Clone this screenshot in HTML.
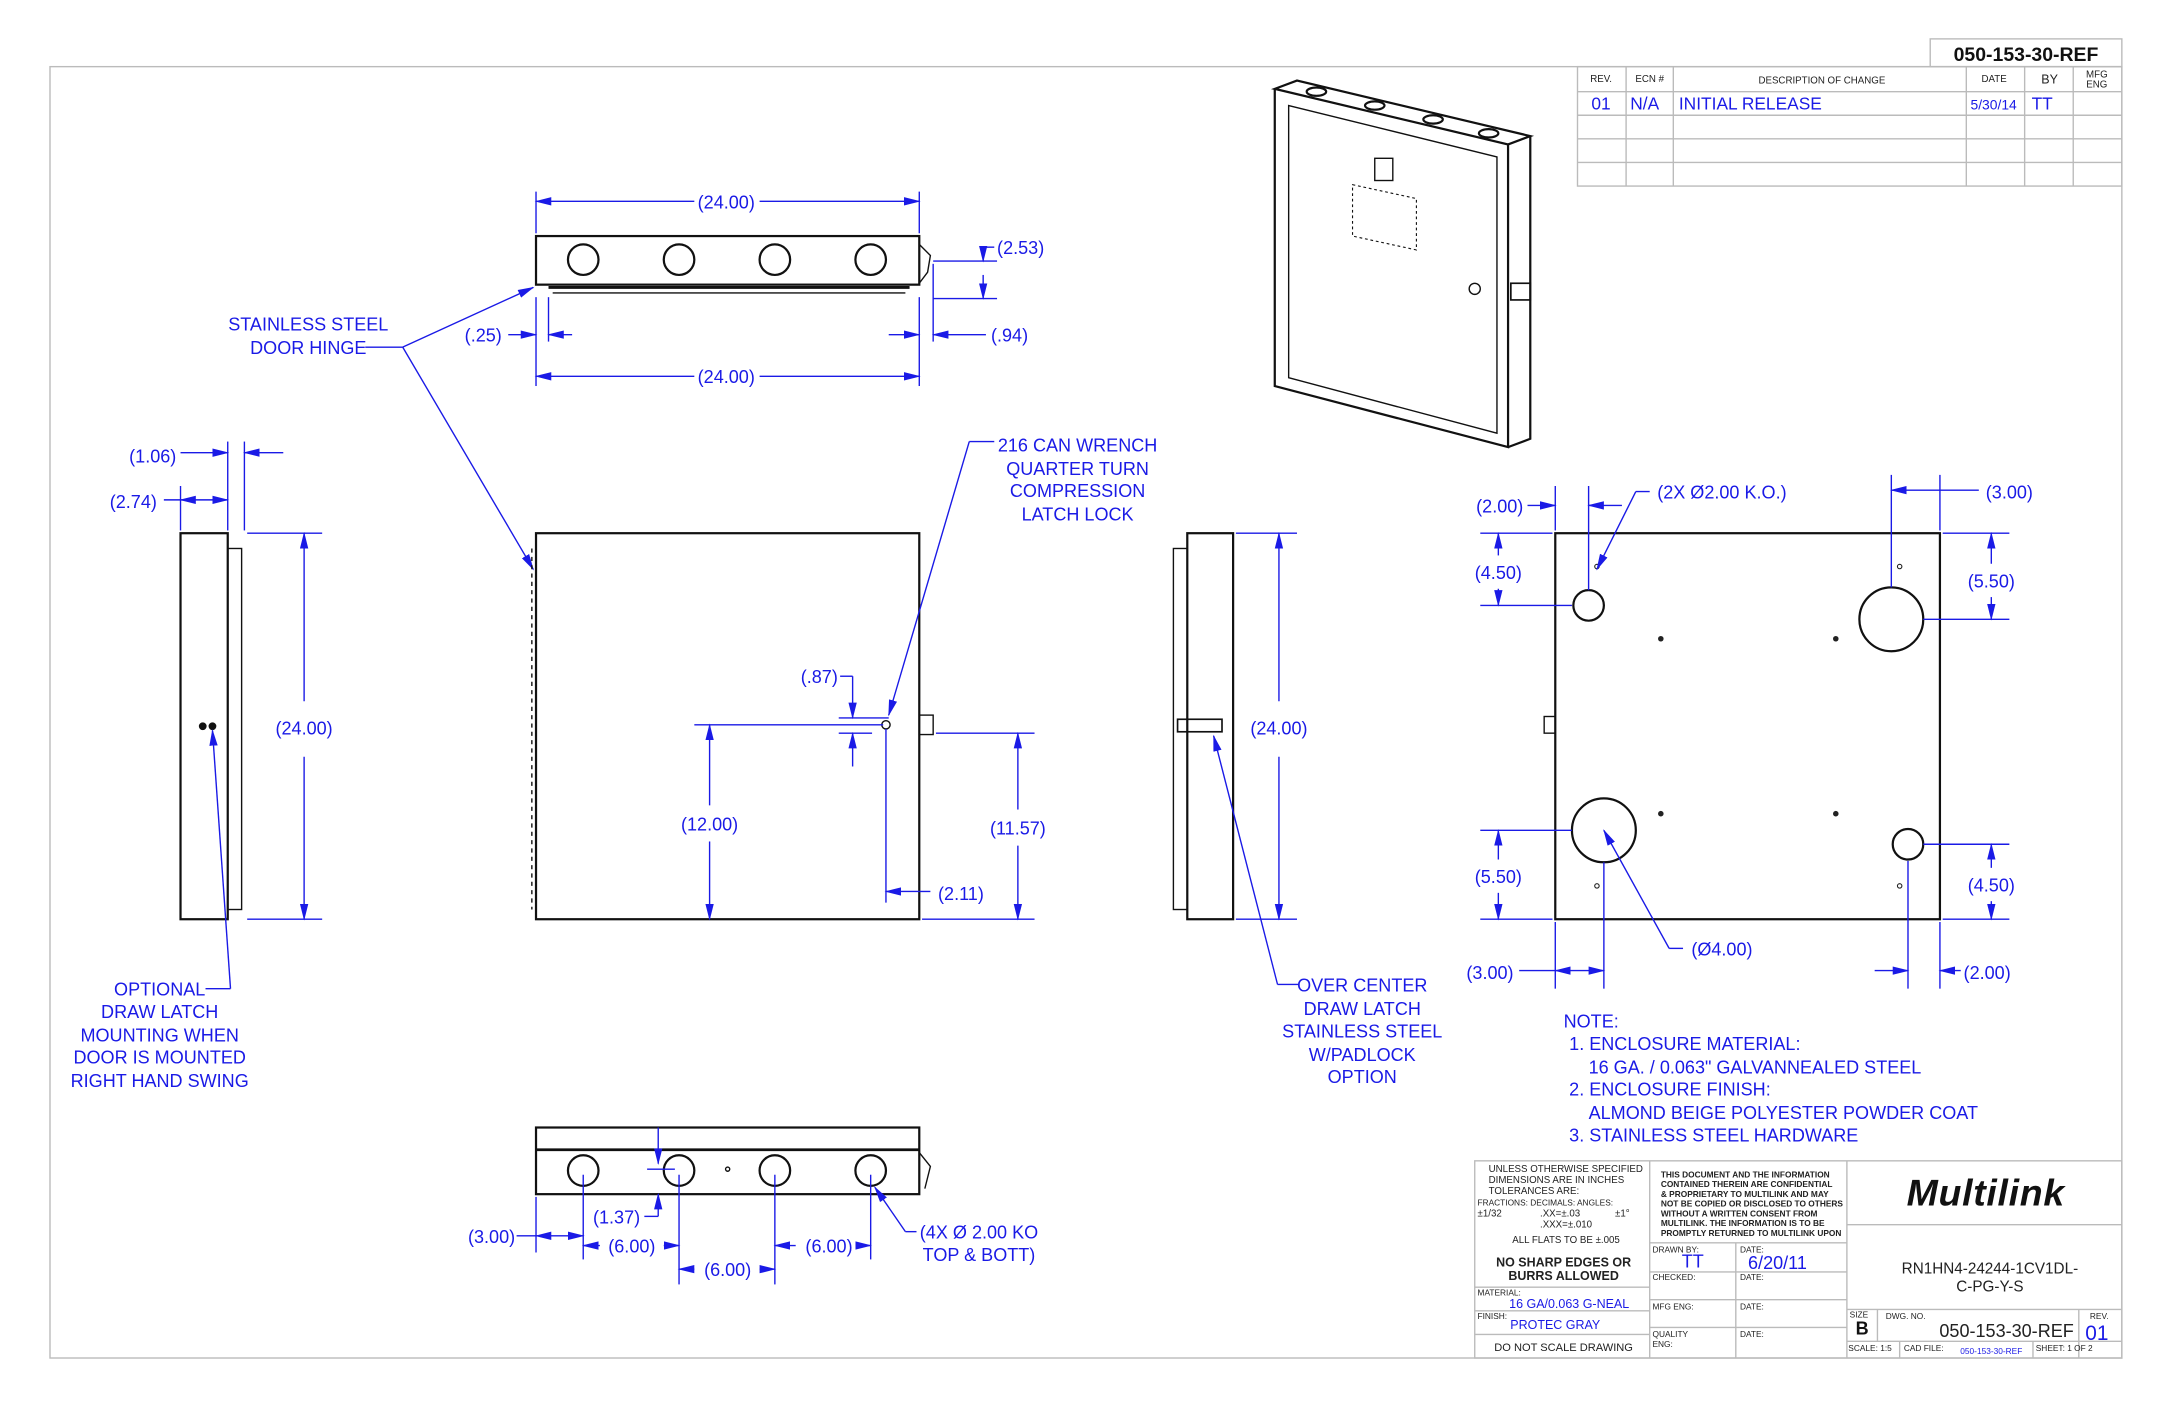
<!DOCTYPE html>
<html><head><meta charset="utf-8"><style>
html,body{margin:0;padding:0;background:#fff}
svg{display:block}
text{font-family:"Liberation Sans",sans-serif}
.b{fill:#1a1ae6;font-size:13px}
.bt{fill:#1a1ae6;font-size:12.5px}
.d{stroke:#1a1ae6;stroke-width:1;fill:none}
.k{stroke:#111;stroke-width:1.6;fill:none}
.g{stroke:#bbb;stroke-width:1;fill:none}
.s{fill:#222;font-size:7px}
</style></head><body>
<svg width="2176" height="1408" viewBox="0 0 1567 1014" preserveAspectRatio="none" xmlns="http://www.w3.org/2000/svg">
<defs>
<marker id="a" markerWidth="12" markerHeight="8" refX="11" refY="4" orient="auto-start-reverse" markerUnits="userSpaceOnUse"><path d="M0,1 L12,4 L0,7 Z" fill="#1a1ae6"/></marker>
</defs>
<rect x="36" y="48" width="1492" height="930" class="g"/>
<rect x="1390" y="28" width="138" height="20" class="g"/>
<text x="1459" y="44" text-anchor="middle" style="font-size:14px;font-weight:bold;fill:#111">050-153-30-REF</text>
<g class="g">
<rect x="1136" y="48" width="392" height="86"/>
<line x1="1136" y1="66" x2="1528" y2="66"/><line x1="1136" y1="83" x2="1528" y2="83"/><line x1="1136" y1="100" x2="1528" y2="100"/><line x1="1136" y1="117" x2="1528" y2="117"/>
<line x1="1171" y1="48" x2="1171" y2="134"/><line x1="1205" y1="48" x2="1205" y2="134"/><line x1="1416" y1="48" x2="1416" y2="134"/><line x1="1458" y1="48" x2="1458" y2="134"/><line x1="1493" y1="48" x2="1493" y2="134"/>
</g>
<g class="s" text-anchor="middle"><text x="1153" y="59">REV.</text><text x="1188" y="59">ECN #</text><text x="1312" y="60">DESCRIPTION OF CHANGE</text><text x="1436" y="59">DATE</text><text x="1476" y="60" style="font-size:9px">BY</text><text x="1510" y="56">MFG</text><text x="1510" y="63">ENG</text></g>
<text x="1146" y="79" class="bt">01</text><text x="1174" y="79" class="bt">N/A</text><text x="1209" y="79" class="bt">INITIAL RELEASE</text><text x="1419" y="79" class="b" style="font-size:10px">5/30/14</text><text x="1463" y="79" class="bt">TT</text>
<g class="k" stroke-width="1.4">
<path d="M918,64 L934,58 L1102,98 L1086,104 Z"/>
<path d="M918,64 L918,278 L1086,322 L1086,104"/>
<path d="M1086,322 L1102,316 L1102,98"/>
<path d="M928,76 L1078,113 L1078,312 L928,272 Z" stroke-width="1"/>
<ellipse cx="948" cy="66" rx="7" ry="3"/><ellipse cx="990" cy="76" rx="7" ry="3"/><ellipse cx="1032" cy="86" rx="7" ry="3"/><ellipse cx="1072" cy="96" rx="7" ry="3"/>
<path d="M974,133 L1020,143 L1020,180 L974,170 Z" stroke-dasharray="2 2" stroke-width="0.8"/>
<rect x="990" y="114" width="13" height="16" stroke-width="1"/>
<rect x="1088" y="204" width="14" height="12" stroke-width="1.2"/>
<circle cx="1062" cy="208" r="4" stroke-width="1"/>
</g>
<g class="k">
<rect x="386" y="170" width="276" height="35"/>
<line x1="395" y1="207" x2="655" y2="207" stroke-width="2"/>
<line x1="398" y1="211" x2="652" y2="211" stroke-width="1"/>
<circle cx="420" cy="187" r="11"/><circle cx="489" cy="187" r="11"/><circle cx="558" cy="187" r="11"/><circle cx="627" cy="187" r="11"/>
<path d="M662,176 L670,184 L668,196 L662,204" stroke-width="1"/>
</g>
<g class="d">
<line x1="386" y1="138" x2="386" y2="168"/><line x1="662" y1="138" x2="662" y2="168"/>
<line x1="386" y1="145" x2="500" y2="145" marker-start="url(#a)"/><line x1="547" y1="145" x2="662" y2="145" marker-end="url(#a)"/>
<line x1="386" y1="214" x2="386" y2="278"/><line x1="395" y1="214" x2="395" y2="246"/><line x1="662" y1="214" x2="662" y2="278"/><line x1="672" y1="190" x2="672" y2="246"/>
<line x1="386" y1="271" x2="500" y2="271" marker-start="url(#a)"/><line x1="547" y1="271" x2="662" y2="271" marker-end="url(#a)"/>
<line x1="366" y1="241" x2="386" y2="241" marker-end="url(#a)"/><line x1="395" y1="241" x2="412" y2="241" marker-start="url(#a)"/>
<line x1="640" y1="241" x2="662" y2="241" marker-end="url(#a)"/><line x1="672" y1="241" x2="710" y2="241" marker-start="url(#a)"/>
<line x1="672" y1="188" x2="718" y2="188"/><line x1="672" y1="215" x2="718" y2="215"/>
<line x1="708" y1="178" x2="708" y2="188" marker-end="url(#a)"/><line x1="708" y1="178" x2="716" y2="178"/><line x1="708" y1="215" x2="708" y2="198" marker-start="url(#a)"/>
</g>
<text x="523" y="150" text-anchor="middle" class="b">(24.00)</text>
<text x="523" y="276" text-anchor="middle" class="b">(24.00)</text>
<text x="735" y="183" text-anchor="middle" class="b">(2.53)</text>
<text x="727" y="246" text-anchor="middle" class="b">(.94)</text>
<text x="348" y="246" text-anchor="middle" class="b">(.25)</text>
<text x="222" y="238" text-anchor="middle" class="b">STAINLESS STEEL</text>
<text x="222" y="255" text-anchor="middle" class="b">DOOR HINGE</text>
<g class="d"><line x1="263" y1="250" x2="290" y2="250"/><line x1="290" y1="250" x2="384" y2="207" marker-end="url(#a)"/><line x1="290" y1="250" x2="384" y2="410" marker-end="url(#a)"/></g>
<g class="k">
<rect x="130" y="384" width="34" height="278"/>
<rect x="164" y="395" width="10" height="260" stroke-width="1"/>
<circle cx="146" cy="523" r="2" fill="#111"/><circle cx="153" cy="523" r="2" fill="#111"/>
</g>
<g class="d">
<line x1="164" y1="318" x2="164" y2="382"/><line x1="176" y1="318" x2="176" y2="382"/><line x1="130" y1="350" x2="130" y2="382"/>
<line x1="130" y1="326" x2="164" y2="326" marker-end="url(#a)"/><line x1="176" y1="326" x2="204" y2="326" marker-start="url(#a)"/>
<line x1="118" y1="360" x2="130" y2="360"/><line x1="130" y1="360" x2="164" y2="360" marker-start="url(#a)" marker-end="url(#a)"/>
<line x1="178" y1="384" x2="232" y2="384"/><line x1="178" y1="662" x2="232" y2="662"/>
<line x1="219" y1="384" x2="219" y2="505" marker-start="url(#a)"/><line x1="219" y1="545" x2="219" y2="662" marker-end="url(#a)"/>
<line x1="148" y1="712" x2="166" y2="712"/><line x1="166" y1="712" x2="153" y2="526" marker-end="url(#a)"/>
</g>
<text x="110" y="333" text-anchor="middle" class="b">(1.06)</text>
<text x="96" y="366" text-anchor="middle" class="b">(2.74)</text>
<text x="219" y="529" text-anchor="middle" class="b">(24.00)</text>
<g class="b" text-anchor="middle"><text x="115" y="717">OPTIONAL</text><text x="115" y="733">DRAW LATCH</text><text x="115" y="750">MOUNTING WHEN</text><text x="115" y="766">DOOR IS MOUNTED</text><text x="115" y="783">RIGHT HAND SWING</text></g>
<g class="k">
<rect x="386" y="384" width="276" height="278"/>
<line x1="383" y1="395" x2="383" y2="655" stroke-width="1" stroke-dasharray="3 3"/>
<circle cx="638" cy="522" r="3" stroke-width="1"/>
<rect x="662" y="515" width="10" height="14" stroke-width="1"/>
</g>
<g class="d">
<line x1="500" y1="522" x2="636" y2="522"/><line x1="638" y1="525" x2="638" y2="650"/>
<line x1="511" y1="522" x2="511" y2="580" marker-start="url(#a)"/><line x1="511" y1="606" x2="511" y2="662" marker-end="url(#a)"/>
<line x1="674" y1="528" x2="745" y2="528"/><line x1="664" y1="662" x2="745" y2="662"/>
<line x1="733" y1="528" x2="733" y2="583" marker-start="url(#a)"/><line x1="733" y1="609" x2="733" y2="662" marker-end="url(#a)"/>
<line x1="638" y1="642" x2="662" y2="642" marker-start="url(#a)"/><line x1="662" y1="642" x2="670" y2="642"/>
<line x1="604" y1="517" x2="640" y2="517"/><line x1="604" y1="528" x2="628" y2="528"/>
<line x1="605" y1="487" x2="614" y2="487"/><line x1="614" y1="487" x2="614" y2="517" marker-end="url(#a)"/><line x1="614" y1="552" x2="614" y2="528" marker-end="url(#a)"/>
<line x1="640" y1="515" x2="698" y2="318" marker-start="url(#a)"/><line x1="698" y1="318" x2="716" y2="318"/>
</g>
<text x="511" y="598" text-anchor="middle" class="b">(12.00)</text>
<text x="733" y="601" text-anchor="middle" class="b">(11.57)</text>
<text x="692" y="648" text-anchor="middle" class="b">(2.11)</text>
<text x="590" y="492" text-anchor="middle" class="b">(.87)</text>
<g class="b" text-anchor="middle"><text x="776" y="325">216 CAN WRENCH</text><text x="776" y="342">QUARTER TURN</text><text x="776" y="358">COMPRESSION</text><text x="776" y="375">LATCH LOCK</text></g>
<g class="k">
<rect x="855" y="384" width="33" height="278"/>
<rect x="845" y="395" width="10" height="260" stroke-width="1"/>
<rect x="848" y="518" width="32" height="9" stroke-width="1.2"/>
</g>
<g class="d">
<line x1="890" y1="384" x2="934" y2="384"/><line x1="890" y1="662" x2="934" y2="662"/>
<line x1="921" y1="384" x2="921" y2="505" marker-start="url(#a)"/><line x1="921" y1="545" x2="921" y2="662" marker-end="url(#a)"/>
<line x1="935" y1="709" x2="920" y2="709"/><line x1="920" y1="709" x2="874" y2="530" marker-end="url(#a)"/>
</g>
<text x="921" y="529" text-anchor="middle" class="b">(24.00)</text>
<g class="b" text-anchor="middle"><text x="981" y="714">OVER CENTER</text><text x="981" y="731">DRAW LATCH</text><text x="981" y="747">STAINLESS STEEL</text><text x="981" y="764">W/PADLOCK</text><text x="981" y="780">OPTION</text></g>
<g class="k">
<rect x="1120" y="384" width="277" height="278"/>
<circle cx="1362" cy="446" r="23"/><circle cx="1144" cy="436" r="11"/><circle cx="1155" cy="598" r="23"/><circle cx="1374" cy="608" r="11"/>
<rect x="1112" y="516" width="8" height="12" stroke-width="1"/>
</g>
<g fill="#222"><circle cx="1196" cy="460" r="2"/><circle cx="1322" cy="460" r="2"/><circle cx="1196" cy="586" r="2"/><circle cx="1322" cy="586" r="2"/></g>
<g fill="none" stroke="#222" stroke-width="0.8"><circle cx="1150" cy="408" r="1.6"/><circle cx="1368" cy="408" r="1.6"/><circle cx="1150" cy="638" r="1.6"/><circle cx="1368" cy="638" r="1.6"/></g>
<g class="d">
<line x1="1120" y1="350" x2="1120" y2="382"/><line x1="1144" y1="350" x2="1144" y2="425"/>
<line x1="1100" y1="364" x2="1120" y2="364" marker-end="url(#a)"/><line x1="1144" y1="364" x2="1168" y2="364" marker-start="url(#a)"/>
<line x1="1362" y1="342" x2="1362" y2="423"/><line x1="1397" y1="342" x2="1397" y2="382"/>
<line x1="1362" y1="353" x2="1397" y2="353" marker-start="url(#a)"/><line x1="1397" y1="353" x2="1425" y2="353"/>
<line x1="1188" y1="354" x2="1178" y2="354"/><line x1="1178" y1="354" x2="1150" y2="410" marker-end="url(#a)"/>
<line x1="1066" y1="384" x2="1118" y2="384"/><line x1="1066" y1="436" x2="1132" y2="436"/>
<line x1="1079" y1="384" x2="1079" y2="400" marker-start="url(#a)"/><line x1="1079" y1="424" x2="1079" y2="436" marker-end="url(#a)"/>
<line x1="1385" y1="446" x2="1447" y2="446"/><line x1="1399" y1="384" x2="1447" y2="384"/>
<line x1="1434" y1="384" x2="1434" y2="406" marker-start="url(#a)"/><line x1="1434" y1="430" x2="1434" y2="446" marker-end="url(#a)"/>
<line x1="1066" y1="598" x2="1132" y2="598"/><line x1="1066" y1="662" x2="1118" y2="662"/>
<line x1="1079" y1="598" x2="1079" y2="619" marker-start="url(#a)"/><line x1="1079" y1="643" x2="1079" y2="662" marker-end="url(#a)"/>
<line x1="1385" y1="608" x2="1447" y2="608"/><line x1="1399" y1="662" x2="1447" y2="662"/>
<line x1="1434" y1="608" x2="1434" y2="625" marker-start="url(#a)"/><line x1="1434" y1="649" x2="1434" y2="662" marker-end="url(#a)"/>
<line x1="1120" y1="664" x2="1120" y2="712"/><line x1="1155" y1="621" x2="1155" y2="712"/>
<line x1="1094" y1="699" x2="1120" y2="699"/><line x1="1120" y1="699" x2="1155" y2="699" marker-start="url(#a)" marker-end="url(#a)"/>
<line x1="1374" y1="620" x2="1374" y2="712"/><line x1="1397" y1="664" x2="1397" y2="712"/>
<line x1="1350" y1="699" x2="1374" y2="699" marker-end="url(#a)"/><line x1="1397" y1="699" x2="1412" y2="699" marker-start="url(#a)"/>
<line x1="1212" y1="683" x2="1202" y2="683"/><line x1="1202" y1="683" x2="1155" y2="598" marker-end="url(#a)"/>
</g>
<text x="1080" y="369" text-anchor="middle" class="b">(2.00)</text>
<text x="1240" y="359" text-anchor="middle" class="b">(2X Ø2.00 K.O.)</text>
<text x="1447" y="359" text-anchor="middle" class="b">(3.00)</text>
<text x="1079" y="417" text-anchor="middle" class="b">(4.50)</text>
<text x="1434" y="423" text-anchor="middle" class="b">(5.50)</text>
<text x="1079" y="636" text-anchor="middle" class="b">(5.50)</text>
<text x="1434" y="642" text-anchor="middle" class="b">(4.50)</text>
<text x="1073" y="705" text-anchor="middle" class="b">(3.00)</text>
<text x="1431" y="705" text-anchor="middle" class="b">(2.00)</text>
<text x="1240" y="688" text-anchor="middle" class="b">(Ø4.00)</text>
<g class="b"><text x="1126" y="740">NOTE:</text><text x="1130" y="756">1. ENCLOSURE MATERIAL:</text><text x="1144" y="773">16 GA. / 0.063" GALVANNEALED STEEL</text><text x="1130" y="789">2. ENCLOSURE FINISH:</text><text x="1144" y="806">ALMOND BEIGE POLYESTER POWDER COAT</text><text x="1130" y="822">3. STAINLESS STEEL HARDWARE</text></g>
<g class="k">
<rect x="386" y="812" width="276" height="48"/>
<line x1="386" y1="828" x2="662" y2="828" stroke-width="2"/>
<circle cx="420" cy="843" r="11"/><circle cx="489" cy="843" r="11"/><circle cx="558" cy="843" r="11"/><circle cx="627" cy="843" r="11"/>
<circle cx="524" cy="842" r="1.5" stroke-width="1"/>
<path d="M662,830 L670,840 L666,856" stroke-width="1"/>
</g>
<g class="d">
<line x1="386" y1="862" x2="386" y2="902"/><line x1="420" y1="846" x2="420" y2="907"/><line x1="489" y1="846" x2="489" y2="925"/><line x1="558" y1="846" x2="558" y2="925"/><line x1="627" y1="846" x2="627" y2="907"/>
<line x1="372" y1="890" x2="386" y2="890"/><line x1="386" y1="890" x2="420" y2="890" marker-start="url(#a)" marker-end="url(#a)"/>
<line x1="420" y1="897" x2="432" y2="897" marker-start="url(#a)"/><line x1="478" y1="897" x2="489" y2="897" marker-end="url(#a)"/>
<line x1="489" y1="914" x2="500" y2="914" marker-start="url(#a)"/><line x1="547" y1="914" x2="558" y2="914" marker-end="url(#a)"/>
<line x1="558" y1="897" x2="573" y2="897" marker-start="url(#a)"/><line x1="620" y1="897" x2="627" y2="897" marker-end="url(#a)"/>
<line x1="474" y1="812" x2="474" y2="838" marker-end="url(#a)"/><line x1="466" y1="842" x2="486" y2="842"/>
<line x1="474" y1="876" x2="474" y2="860" marker-end="url(#a)"/><line x1="464" y1="876" x2="474" y2="876"/>
<line x1="660" y1="887" x2="652" y2="887"/><line x1="652" y1="887" x2="630" y2="855" marker-end="url(#a)"/>
</g>
<text x="354" y="895" text-anchor="middle" class="b">(3.00)</text>
<text x="455" y="902" text-anchor="middle" class="b">(6.00)</text>
<text x="524" y="919" text-anchor="middle" class="b">(6.00)</text>
<text x="597" y="902" text-anchor="middle" class="b">(6.00)</text>
<text x="444" y="881" text-anchor="middle" class="b">(1.37)</text>
<text x="705" y="892" text-anchor="middle" class="b">(4X Ø 2.00 KO</text>
<text x="705" y="908" text-anchor="middle" class="b">TOP &amp; BOTT)</text>
<g class="g">
<rect x="1062" y="836" width="466" height="142"/>
<line x1="1188" y1="836" x2="1188" y2="978"/><line x1="1330" y1="836" x2="1330" y2="978"/>
<line x1="1062" y1="927" x2="1188" y2="927"/><line x1="1062" y1="944" x2="1188" y2="944"/><line x1="1062" y1="961" x2="1188" y2="961"/>
<line x1="1188" y1="895" x2="1330" y2="895"/><line x1="1188" y1="916" x2="1330" y2="916"/><line x1="1188" y1="936" x2="1330" y2="936"/><line x1="1188" y1="956" x2="1330" y2="956"/><line x1="1250" y1="895" x2="1250" y2="978"/>
<line x1="1330" y1="882" x2="1528" y2="882"/><line x1="1330" y1="943" x2="1528" y2="943"/><line x1="1330" y1="966" x2="1528" y2="966"/>
<line x1="1352" y1="943" x2="1352" y2="966"/><line x1="1497" y1="943" x2="1497" y2="978"/><line x1="1368" y1="966" x2="1368" y2="978"/><line x1="1464" y1="966" x2="1464" y2="978"/>
</g>
<g class="s"><text x="1072" y="844">UNLESS OTHERWISE SPECIFIED</text><text x="1072" y="852">DIMENSIONS ARE IN INCHES</text><text x="1072" y="860">TOLERANCES ARE:</text><text x="1064" y="868" style="font-size:6px">FRACTIONS:    DECIMALS:    ANGLES:</text><text x="1064" y="876">±1/32</text><text x="1109" y="876">.XX=±.03</text><text x="1163" y="876">±1°</text><text x="1109" y="884">.XXX=±.010</text><text x="1089" y="895">ALL FLATS TO BE ±.005</text>
<text x="1126" y="912" text-anchor="middle" style="font-size:9px;font-weight:bold">NO SHARP EDGES OR</text><text x="1126" y="922" text-anchor="middle" style="font-size:9px;font-weight:bold">BURRS ALLOWED</text>
<text x="1064" y="933" style="font-size:6px">MATERIAL:</text><text x="1064" y="950" style="font-size:6px">FINISH:</text><text x="1126" y="973" text-anchor="middle" style="font-size:8px">DO NOT SCALE DRAWING</text>
<text x="1196" y="848" style="font-size:6px;font-weight:bold">THIS DOCUMENT AND THE INFORMATION</text><text x="1196" y="855" style="font-size:6px;font-weight:bold">CONTAINED THEREIN ARE CONFIDENTIAL</text><text x="1196" y="862" style="font-size:6px;font-weight:bold">&amp; PROPRIETARY TO MULTILINK AND MAY</text><text x="1196" y="869" style="font-size:6px;font-weight:bold">NOT BE COPIED OR DISCLOSED TO OTHERS</text><text x="1196" y="876" style="font-size:6px;font-weight:bold">WITHOUT A WRITTEN CONSENT FROM</text><text x="1196" y="883" style="font-size:6px;font-weight:bold">MULTILINK. THE INFORMATION IS TO BE</text><text x="1196" y="890" style="font-size:6px;font-weight:bold">PROMPTLY RETURNED TO MULTILINK UPON</text>
<text x="1190" y="902" style="font-size:6px">DRAWN BY:</text><text x="1253" y="902" style="font-size:6px">DATE:</text><text x="1190" y="922" style="font-size:6px">CHECKED:</text><text x="1253" y="922" style="font-size:6px">DATE:</text><text x="1190" y="943" style="font-size:6px">MFG ENG:</text><text x="1253" y="943" style="font-size:6px">DATE:</text><text x="1190" y="963" style="font-size:6px">QUALITY</text><text x="1190" y="970" style="font-size:6px">ENG:</text><text x="1253" y="963" style="font-size:6px">DATE:</text>
<text x="1332" y="949" style="font-size:6px">SIZE</text><text x="1358" y="950" style="font-size:6px">DWG. NO.</text><text x="1505" y="950" style="font-size:6px">REV.</text><text x="1331" y="973" style="font-size:6px">SCALE: 1:5</text><text x="1371" y="973" style="font-size:6px">CAD  FILE:</text><text x="1466" y="973" style="font-size:6px">SHEET:    1  OF  2</text></g>
<text x="1219" y="913" text-anchor="middle" class="b">TT</text><text x="1280" y="914" text-anchor="middle" class="b">6/20/11</text>
<text x="1130" y="942" text-anchor="middle" class="b" style="font-size:9px">16 GA/0.063 G-NEAL</text><text x="1120" y="957" text-anchor="middle" class="b" style="font-size:9px">PROTEC GRAY</text>
<text x="1433" y="917" text-anchor="middle" style="font-size:11px;fill:#222">RN1HN4-24244-1CV1DL-</text><text x="1433" y="930" text-anchor="middle" style="font-size:11px;fill:#222">C-PG-Y-S</text>
<text x="1341" y="961" text-anchor="middle" style="font-size:13px;font-weight:bold;fill:#111">B</text>
<text x="1445" y="963" text-anchor="middle" style="font-size:13px;fill:#222">050-153-30-REF</text>
<text x="1510" y="965" text-anchor="middle" class="b" style="font-size:15px">01</text>
<text x="1434" y="975" text-anchor="middle" class="b" style="font-size:6px">050-153-30-REF</text>
<text x="1430" y="868" text-anchor="middle" style="font-size:27px;font-weight:bold;font-style:italic;fill:#111;letter-spacing:0.5px">Multilink</text>
</svg>
</body></html>
